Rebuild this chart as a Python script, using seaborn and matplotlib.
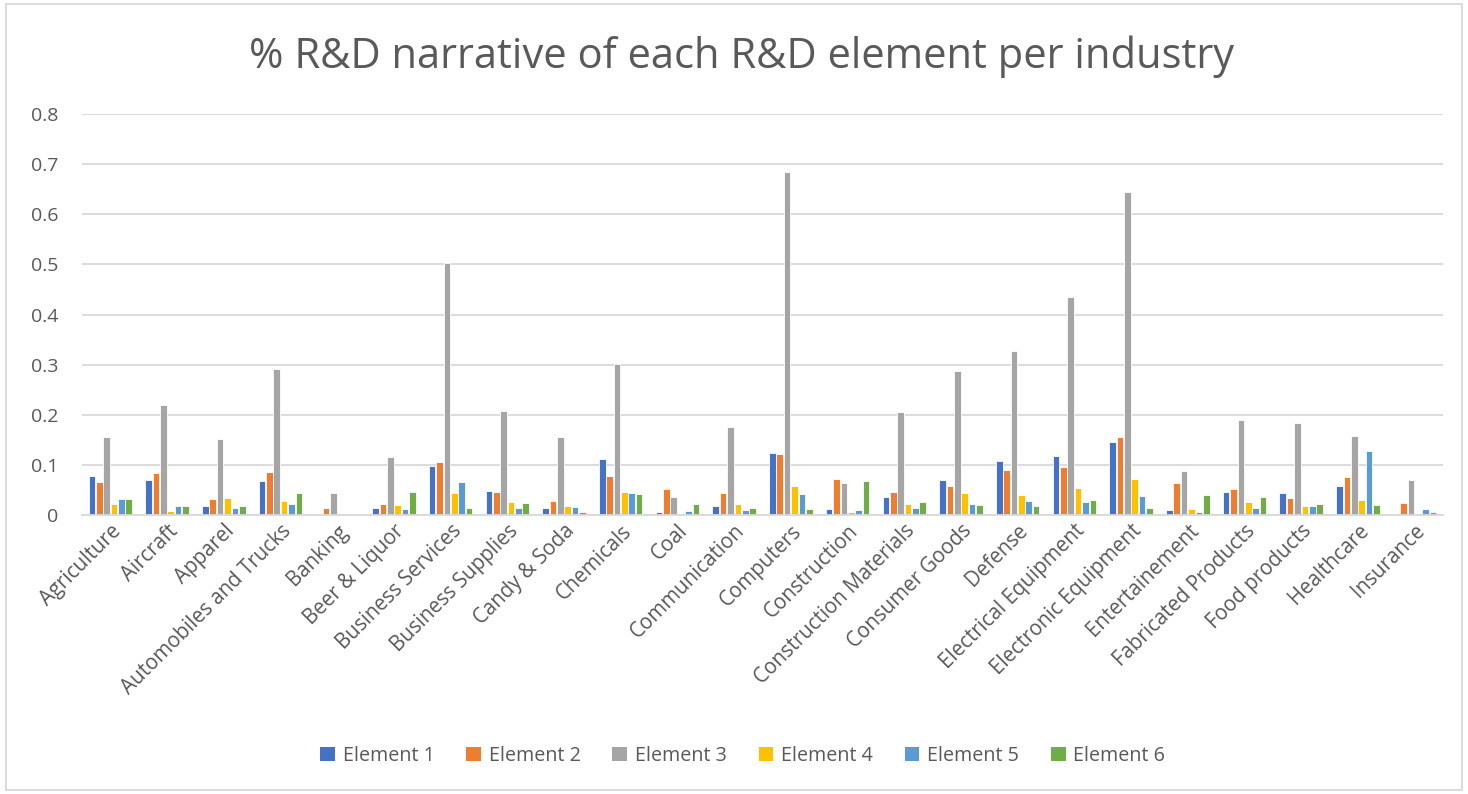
import numpy as np
import pandas as pd
import seaborn as sns
import matplotlib.pyplot as plt
from matplotlib.patches import Rectangle, Patch

industries = [
    "Agriculture", "Aircraft", "Apparel", "Automobiles and Trucks", "Banking",
    "Beer & Liquor", "Business Services", "Business Supplies", "Candy & Soda",
    "Chemicals", "Coal", "Communication", "Computers", "Construction",
    "Construction Materials", "Consumer Goods", "Defense", "Electrical Equipment",
    "Electronic Equipment", "Entertainement", "Fabricated Products",
    "Food products", "Healthcare", "Insurance",
]

element_1 = [0.077, 0.069, 0.017, 0.067, 0.001, 0.013, 0.098, 0.048, 0.014, 0.112,
             0.005, 0.018, 0.123, 0.012, 0.035, 0.070, 0.107, 0.118, 0.146, 0.009,
             0.045, 0.043, 0.057, 0.002]
element_2 = [0.066, 0.084, 0.032, 0.085, 0.013, 0.021, 0.106, 0.045, 0.027, 0.077,
             0.052, 0.043, 0.121, 0.071, 0.045, 0.057, 0.090, 0.096, 0.155, 0.063,
             0.051, 0.033, 0.076, 0.024]
element_3 = [0.155, 0.220, 0.152, 0.292, 0.044, 0.116, 0.502, 0.208, 0.156, 0.302,
             0.035, 0.175, 0.684, 0.063, 0.206, 0.288, 0.327, 0.435, 0.644, 0.088,
             0.189, 0.183, 0.158, 0.069]
element_4 = [0.022, 0.007, 0.033, 0.027, 0.000, 0.019, 0.043, 0.025, 0.017, 0.045,
             0.001, 0.021, 0.057, 0.005, 0.021, 0.044, 0.039, 0.054, 0.072, 0.012,
             0.025, 0.018, 0.030, 0.001]
element_5 = [0.032, 0.017, 0.013, 0.022, 0.001, 0.012, 0.066, 0.013, 0.016, 0.044,
             0.008, 0.009, 0.042, 0.010, 0.014, 0.022, 0.028, 0.025, 0.037, 0.006,
             0.014, 0.018, 0.128, 0.011]
element_6 = [0.031, 0.018, 0.018, 0.043, 0.002, 0.045, 0.014, 0.023, 0.005, 0.042,
             0.021, 0.013, 0.011, 0.067, 0.025, 0.019, 0.017, 0.029, 0.013, 0.039,
             0.036, 0.021, 0.020, 0.006]

series_names = ["Element 1", "Element 2", "Element 3", "Element 4", "Element 5", "Element 6"]
series_values = [element_1, element_2, element_3, element_4, element_5, element_6]
palette = ["#4472C4", "#ED7D31", "#A5A5A5", "#FFC000", "#5B9BD5", "#70AD47"]

y_ticks = [0, 0.1, 0.2, 0.3, 0.4, 0.5, 0.6, 0.7, 0.8]
y_tick_labels = ["0", "0.1", "0.2", "0.3", "0.4", "0.5", "0.6", "0.7", "0.8"]

df = pd.DataFrame({
    "Industry": np.tile(industries, len(series_names)),
    "Element": np.repeat(series_names, len(industries)),
    "Share": np.concatenate(series_values),
})

sns.set_theme(style="white")
plt.rcParams["font.family"] = ["Open Sans", "DejaVu Sans"]
text_color = "#595959"
grid_color = "#D9D9D9"

fig = plt.figure(figsize=(14.68, 7.94), dpi=100)
ax = fig.add_axes([82 / 1468, 1 - 515 / 794, (1443 - 82) / 1468, (515 - 114) / 794])

sns.barplot(
    data=df, x="Industry", y="Share", hue="Element", order=industries,
    hue_order=series_names, palette=palette, width=0.78, gap=0.1,
    edgecolor="white", linewidth=0.6, saturation=1, ax=ax, legend=False,
)

ax.set_ylim(0, 0.8)
ax.set_xlim(-0.5, len(industries) - 0.5)
ax.set_yticks(y_ticks)
ax.set_yticklabels(y_tick_labels)
ax.yaxis.grid(True, color=grid_color, linewidth=1.3)
ax.set_axisbelow(True)
for side in ["top", "right", "left"]:
    ax.spines[side].set_visible(False)
ax.spines["bottom"].set_color(grid_color)
ax.spines["bottom"].set_linewidth(1.3)
ax.set_xlabel("")
ax.set_ylabel("")
ax.tick_params(axis="y", length=0, pad=17, labelsize=14, labelcolor=text_color)
ax.tick_params(axis="x", length=0, pad=4, labelsize=14.8, labelcolor=text_color)
plt.setp(ax.get_xticklabels(), rotation=45, ha="right", rotation_mode="anchor")

fig.text(0.505, 1 - 57 / 794, "% R&D narrative of each R&D element per industry",
         ha="center", va="center", fontsize=30, color=text_color)

handles = [Patch(facecolor=c, edgecolor="none") for c in palette]
fig.legend(handles, series_names, loc="center", bbox_to_anchor=(0.506, 1 - 756 / 794),
           ncol=6, frameon=False, fontsize=14.2, labelcolor=text_color,
           handlelength=0.75, handleheight=0.75, handletextpad=0.4, columnspacing=1.6)

fig.patches.append(Rectangle((6 / 1468, 4 / 794), 1456 / 1468, 786 / 794,
                             transform=fig.transFigure, fill=False,
                             edgecolor=grid_color, linewidth=1.3))

fig.savefig("out.png", dpi=100, facecolor="white")
